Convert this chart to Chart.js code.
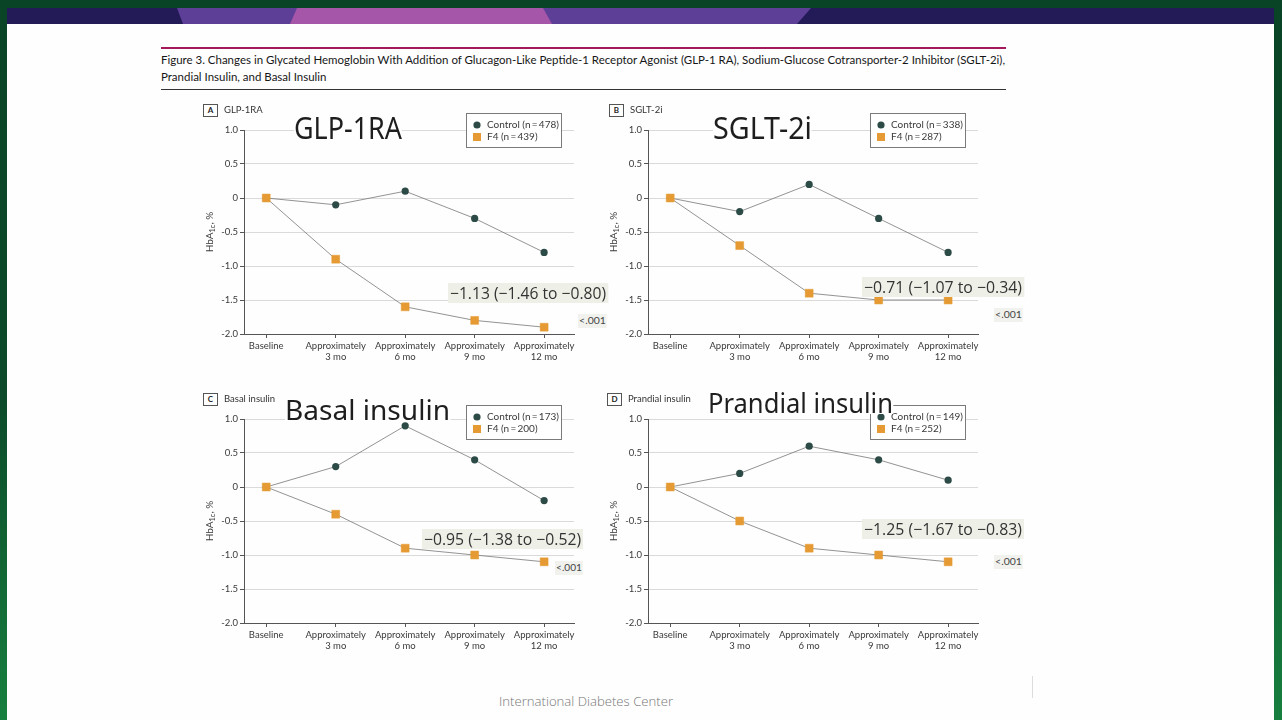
<!DOCTYPE html>
<html>
<head>
<meta charset="utf-8">
<script src="https://cdn.jsdelivr.net/npm/chart.js@4.4.1/dist/chart.umd.min.js"></script>
<style>
  html, body { margin: 0; padding: 0; }
  body {
    width: 1282px; height: 720px; overflow: hidden; position: relative;
    background: linear-gradient(180deg, #0a4426 0%, #0c4a29 55%, #17803f 100%);
    font-family: Lato, sans-serif;
  }
  #slide { position: absolute; left: 7px; top: 8px; width: 1267px; height: 712px; background: #fefefe; }
  #banner { position: absolute; left: 7px; top: 8px; }
  .abs { position: absolute; white-space: nowrap; transform-origin: 0 50%; }
  .rule { position: absolute; left: 161px; width: 845px; }
  .title { font-size: 11.5px; color: #161616; line-height: 14px; }
  .letter { position: absolute; width: 13px; height: 11px; border: 1px solid #555; font-size: 8px; font-weight: bold;
            text-align: center; line-height: 11px; color: #222; background: #fff; }
  .pname { font-size: 9.5px; color: #333; line-height: 12px; }
  .big { font-family: "Noto Sans", sans-serif; color: #1e1e1e; background: #fefefe; line-height: 1; }
  .diff { font-family: "Open Sans", sans-serif; font-size: 16px; color: #333; background: #eef0e8;
          height: 20px; line-height: 20px; padding: 0 2px; }
  .pval { font-size: 9.5px; color: #444; background: #f1f2ed; line-height: 14px; padding: 0 1px; }
  canvas.panel { position: absolute; }
</style>
</head>
<body>
<div id="slide"></div>
<svg id="banner" width="1267" height="16">
  <rect x="0" y="0" width="1267" height="16" fill="#231b57"/>
  <polygon points="170,0 804,0 790,16 176,16" fill="#5d3f98"/>
  <polygon points="290,0 536,0 545,16 283,16" fill="#a556a8"/>
</svg>

<div class="rule" style="top:47px;height:2px;background:#a3195b"></div>
<div id="t1" class="abs title" style="left:161px;top:53px">Figure 3. Changes in Glycated Hemoglobin With Addition of Glucagon-Like Peptide-1 Receptor Agonist (GLP-1 RA), Sodium-Glucose Cotransporter-2 Inhibitor (SGLT-2i),</div>
<div id="t2" class="abs title" style="left:161px;top:70px">Prandial Insulin, and Basal Insulin</div>
<div class="rule" style="top:89px;height:1px;background:#333"></div>

<canvas id="cA" class="panel" width="400" height="265" style="left:195px;top:100px"></canvas>
<canvas id="cB" class="panel" width="400" height="265" style="left:599px;top:100px"></canvas>
<canvas id="cC" class="panel" width="400" height="265" style="left:195px;top:389px"></canvas>
<canvas id="cD" class="panel" width="400" height="265" style="left:599px;top:389px"></canvas>

<div id="overlay"></div>

<div id="footer" class="abs" style="left:499px;top:694px;font-family:'Open Sans',sans-serif;font-weight:300;font-size:12.5px;color:#777;line-height:16px">International Diabetes Center</div>
<div style="position:absolute;left:1032px;top:676px;width:1px;height:22px;background:#ddd"></div>

<script>
// x axis categories
const timepoints = ['Baseline', ['Approximately', '3 mo'], ['Approximately', '6 mo'], ['Approximately', '9 mo'], ['Approximately', '12 mo']];

// HbA1c change, %
const glpControl = [0, -0.1, 0.1, -0.3, -0.8];
const glpF4 = [0, -0.9, -1.6, -1.8, -1.9];
const sgltControl = [0, -0.2, 0.2, -0.3, -0.8];
const sgltF4 = [0, -0.7, -1.4, -1.5, -1.5];
const basalControl = [0, 0.3, 0.9, 0.4, -0.2];
const basalF4 = [0, -0.4, -0.9, -1.0, -1.1];
const prandialControl = [0, 0.2, 0.6, 0.4, 0.1];
const prandialF4 = [0, -0.5, -0.9, -1.0, -1.1];

const controlN = [478, 338, 173, 149];
const f4N = [439, 287, 200, 252];
const panelLetters = ['A', 'B', 'C', 'D'];
const panelNames = ['GLP-1RA', 'SGLT-2i', 'Basal insulin', 'Prandial insulin'];
const differences = ['\u22121.13 (\u22121.46 to \u22120.80)', '\u22120.71 (\u22121.07 to \u22120.34)',
                     '\u22120.95 (\u22121.38 to \u22120.52)', '\u22121.25 (\u22121.67 to \u22120.83)'];
const pValues = ['<.001', '<.001', '<.001', '<.001'];

const TEAL = '#2d4b46';
const ORANGE = '#e59a33';
const LINE = '#777';
const AXIS = '#555';
const GRID = '#dadada';
const TXT = '#3a3a3a';

// draws the boxed legend and the HbA1c axis title
const panelDeco = {
  id: 'panelDeco',
  afterDraw(chart, args, opts) {
    const ctx = chart.ctx;
    const ca = chart.chartArea;
    ctx.save();
    // y title with subscript
    ctx.translate(15, (ca.top + ca.bottom) / 2);
    ctx.rotate(-Math.PI / 2);
    ctx.fillStyle = TXT;
    ctx.textBaseline = 'middle';
    const big = '10px Lato', small = '7.5px Lato';
    ctx.font = big; const w1 = ctx.measureText('HbA').width, w3 = ctx.measureText(', %').width;
    ctx.font = small; const w2 = ctx.measureText('1c').width;
    let x = -(w1 + w2 + w3) / 2;
    ctx.font = big; ctx.fillText('HbA', x, 0); x += w1;
    ctx.font = small; ctx.fillText('1c', x, 3); x += w2;
    ctx.font = big; ctx.fillText(', %', x, 0);
    ctx.restore();

    // legend box
    const b = opts.box;
    ctx.save();
    ctx.fillStyle = '#fff';
    ctx.strokeStyle = '#7a7a7a';
    ctx.lineWidth = 1;
    ctx.fillRect(b.x, b.y, b.w, b.h);
    ctx.strokeRect(b.x + 0.5, b.y + 0.5, b.w, b.h);
    ctx.font = '10px Lato';
    ctx.textBaseline = 'middle';
    ctx.fillStyle = TXT;
    const order = [1, 0];
    order.forEach((di, row) => {
      const ds = chart.data.datasets[di];
      const cy = b.y + 12 + row * 12;
      ctx.fillStyle = ds.pointBackgroundColor;
      if (ds.pointStyle === 'rect') ctx.fillRect(b.x + 7, cy - 4, 8, 8);
      else { ctx.beginPath(); ctx.arc(b.x + 11, cy, 3.6, 0, Math.PI * 2); ctx.fill(); }
      ctx.fillStyle = TXT;
      ctx.fillText(ds.label, b.x + 21, cy);
    });
    ctx.restore();
  }
};

function makeChart(id, i, control, f4, legendTop) {
  const font = { family: 'Lato', size: 9.5 };
  return new Chart(document.getElementById(id), {
    type: 'line',
    data: {
      datasets: [
        {
          label: 'F4 (n\u2009=\u2009' + f4N[i] + ')',
          data: f4.map((v, k) => ({ x: k, y: v })),
          borderColor: LINE, borderWidth: 0.8, tension: 0,
          pointStyle: 'rect', pointRadius: 5.6, pointBorderWidth: 0.5,
          pointBackgroundColor: ORANGE, pointBorderColor: ORANGE
        },
        {
          label: 'Control (n\u2009=\u2009' + controlN[i] + ')',
          data: control.map((v, k) => ({ x: k, y: v })),
          borderColor: LINE, borderWidth: 0.8, tension: 0,
          pointStyle: 'circle', pointRadius: 3.6, pointBorderWidth: 0,
          pointBackgroundColor: TEAL, pointBorderColor: TEAL
        }
      ]
    },
    options: {
      responsive: false,
      animation: false,
      layout: { padding: { top: 30, right: 21, left: 0, bottom: 0 } },
      plugins: {
        legend: { display: false },
        tooltip: { enabled: false },
        panelDeco: { box: { x: 271, y: legendTop, w: 95, h: 34 } }
      },
      scales: {
        x: {
          type: 'linear', min: -0.32, max: 4.43,
          afterFit: s => { s.height = 31; },
          grid: { drawOnChartArea: false, tickLength: 4, tickColor: AXIS },
          border: { color: AXIS, width: 1 },
          ticks: {
            stepSize: 1, includeBounds: false, autoSkip: false, maxRotation: 0,
            padding: 2, color: TXT, font: font,
            callback: v => timepoints[v]
          }
        },
        y: {
          min: -2, max: 1,
          afterFit: s => { s.width = 49; },
          grid: { color: GRID, tickColor: AXIS, tickLength: 4 },
          border: { color: AXIS, width: 1 },
          ticks: {
            stepSize: 0.5, padding: 2, color: TXT, font: font,
            callback: v => (v === 0 ? '0' : v.toFixed(1))
          }
        }
      }
    },
    plugins: [panelDeco]
  });
}

makeChart('cA', 0, glpControl, glpF4, 13);
makeChart('cB', 1, sgltControl, sgltF4, 13);
makeChart('cC', 2, basalControl, basalF4, 16);
makeChart('cD', 3, prandialControl, prandialF4, 16);

// slide text on top of the panels
const overlay = document.getElementById('overlay');
function addText(cls, text, left, top, style) {
  const d = document.createElement('div');
  d.className = 'abs ' + cls;
  d.textContent = text;
  d.style.left = left + 'px';
  d.style.top = top + 'px';
  if (style) d.style.cssText += style;
  overlay.appendChild(d);
  return d;
}
function fitWidth(el, w) {
  el.style.transform = '';
  const nat = el.getBoundingClientRect().width;
  el.style.transform = 'scaleX(' + (w / nat) + ')';
  return w / nat;
}

const letterPos = [[203, 104], [609, 104], [203, 393], [607, 393]];
const bigPos = [[294, 113, 30, 108], [713, 113, 30, 99], [285, 395, 28, 165], [708, 388, 28, 185]];
const diffPos = [[448, 283, 160], [862, 277, 162], [422, 529, 161], [862, 519, 162]];
const pPos = [[578, 314, 29], [994, 308, 29], [555, 561, 28], [994, 555, 29]];

const fits = [];
panelLetters.forEach((L, i) => {
  const [lx, ly] = letterPos[i];
  const box = document.createElement('div');
  box.className = 'letter';
  box.textContent = L;
  box.style.left = lx + 'px'; box.style.top = ly + 'px';
  overlay.appendChild(box);
  addText('pname', panelNames[i], lx + 21, ly);

  const [bx, by, bs, bw] = bigPos[i];
  const bg = addText('big', panelNames[i], bx, by, 'font-size:' + bs + 'px;height:' + (bs - 2) + 'px');
  fits.push([bg, bw]);

  const [dx, dy, dw] = diffPos[i];
  fits.push([addText('diff', differences[i], dx, dy), dw]);

  const [px, py, pw] = pPos[i];
  fits.push([addText('pval', pValues[i], px, py), pw]);
});

function doFit() {
  fits.forEach(([el, w]) => fitWidth(el, w));
  const k = fitWidth(document.getElementById('t1'), 844);
  document.getElementById('t2').style.transform = 'scaleX(' + k + ')';
  fitWidth(document.getElementById('footer'), 174);
}
doFit();
document.fonts.ready.then(doFit);
</script>
</body>
</html>
